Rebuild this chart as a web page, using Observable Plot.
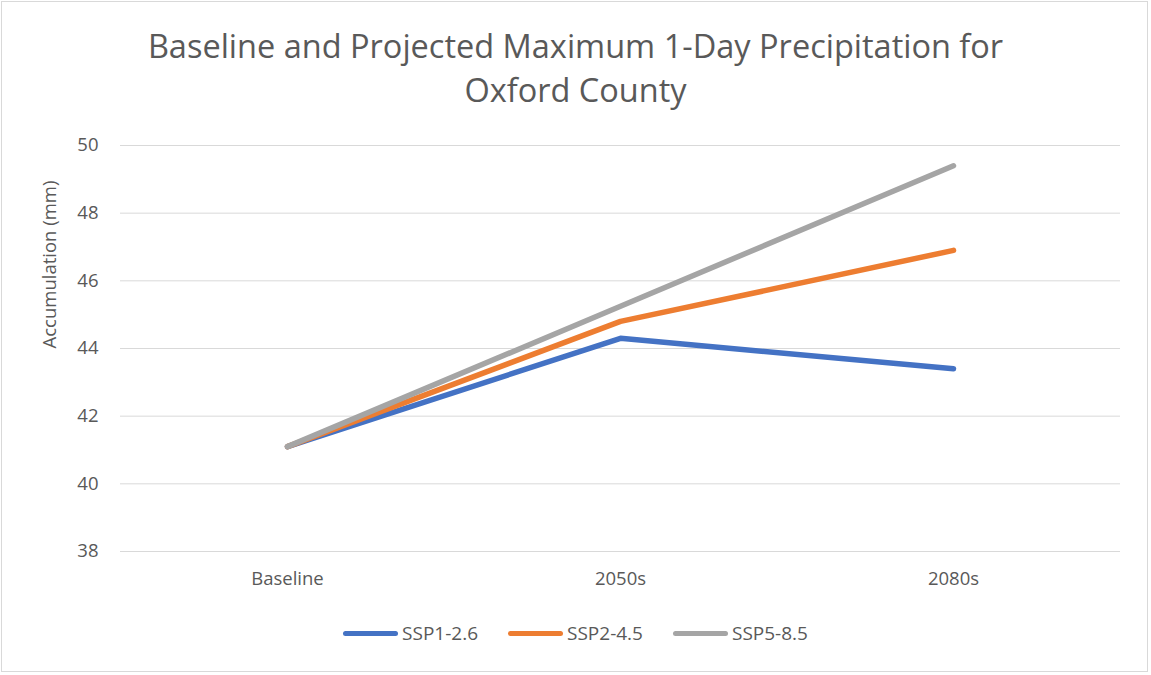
<!DOCTYPE html>
<html>
<head>
<meta charset="utf-8">
<script src="https://cdn.jsdelivr.net/npm/d3@7"></script>
<script src="https://cdn.jsdelivr.net/npm/@observablehq/plot@0.6"></script>
<style>
  html, body { margin: 0; padding: 0; background: #fff; }
  #wrap { position: relative; width: 1151px; height: 675px; overflow: hidden; font-family: "Open Sans", "Liberation Sans", sans-serif; }
  #frame { position: absolute; left: 1px; top: 1px; width: 1147px; height: 671px; border: 1px solid #d9d9d9; box-sizing: border-box; pointer-events: none; }
  #chart { position: absolute; left: 0; top: 0; }
  #chart svg text { font-size: 18.5px; }
  #title { position: absolute; left: 0; top: 24px; width: 1151px; text-align: center; color: #595959; font-size: 32.5px; line-height: 44px; }
  #legend { position: absolute; left: 0; top: 620px; width: 1151px; display: flex; justify-content: center; gap: 30px; color: #595959; font-size: 19px; }
  .item { display: flex; align-items: center; }
  .sw { width: 55px; height: 5px; border-radius: 3px; margin-right: 4px; }
</style>
</head>
<body>
<div id="wrap">
  <div id="chart"></div>
  <div id="title">Baseline and Projected Maximum 1-Day Precipitation for<br>Oxford County</div>
  <div id="legend"></div>
  <div id="frame"></div>
</div>
<script>
const categories = ["Baseline", "2050s", "2080s"];
const seriesNames = ["SSP1-2.6", "SSP2-4.5", "SSP5-8.5"];
const ssp126 = [41.1, 44.3, 43.4];
const ssp245 = [41.1, 44.8, 46.9];
const ssp585 = [41.1, 45.25, 49.4];
const colors = ["#4472C4", "#ED7D31", "#A5A5A5"];
const yTicks = [38, 40, 42, 44, 46, 48, 50];
const yLabel = "Accumulation (mm)";

const seriesValues = [ssp126, ssp245, ssp585];
const data = [];
seriesNames.forEach((s, i) => {
  categories.forEach((c, j) => data.push({series: s, cat: c, value: seriesValues[i][j]}));
});

const chart = Plot.plot({
  width: 1151,
  height: 675,
  marginLeft: 120,
  marginRight: 31,
  marginTop: 145,
  marginBottom: 124,
  style: {fontFamily: "'Open Sans', 'Liberation Sans', sans-serif", fontSize: "18.5px", color: "#595959", background: "transparent"},
  x: {type: "point", domain: categories, padding: 0.5},
  y: {domain: [38, 50]},
  color: {domain: seriesNames, range: colors},
  marks: [
    Plot.gridY(yTicks, {stroke: "#d9d9d9", strokeOpacity: 1, strokeWidth: 1}),
    Plot.axisY(yTicks, {tickSize: 0, tickPadding: 22, fill: "#595959", label: null}),
    Plot.axisX({tickSize: 0, tickPadding: 20, fill: "#595959", label: null}),
    Plot.text([yLabel], {text: d => d, frameAnchor: "left", dx: -70, rotate: -90, fill: "#595959"}),
    Plot.line(data, {x: "cat", y: "value", z: "series", stroke: "series", strokeWidth: 5.5, strokeLinecap: "round", strokeLinejoin: "round"})
  ]
});
document.getElementById("chart").appendChild(chart);

const legend = document.getElementById("legend");
seriesNames.forEach((s, i) => {
  const it = document.createElement("div");
  it.className = "item";
  const sw = document.createElement("div");
  sw.className = "sw";
  sw.style.background = colors[i];
  const tx = document.createElement("span");
  tx.textContent = s;
  it.appendChild(sw);
  it.appendChild(tx);
  legend.appendChild(it);
});
</script>
</body>
</html>
